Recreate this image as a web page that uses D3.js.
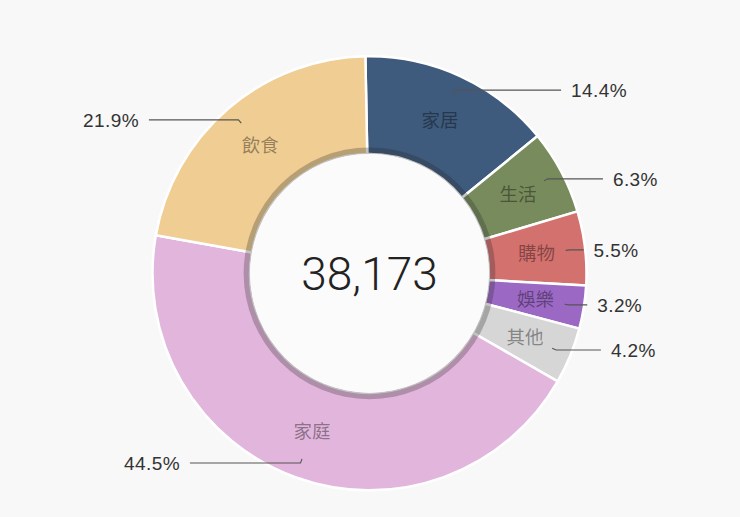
<!DOCTYPE html>
<html>
<head>
<meta charset="utf-8">
<script src="https://cdn.jsdelivr.net/npm/d3@7"></script>
<style>
  html, body { margin: 0; padding: 0; background: #f8f8f8; }
  svg { display: block; }
</style>
</head>
<body>
<svg id="chart"></svg>
<script>
// categories, going clockwise from the top
const CATEGORIES = ["家居", "生活", "購物", "娛樂", "其他", "家庭", "飲食"];
const VALUES = [5497, 2405, 2100, 1222, 1603, 16987, 8359];
const COLORS = ["#3e5a7c", "#778b5d", "#d3716f", "#9b68c4", "#d6d6d6", "#e2b6dc", "#efcd93"];

const WIDTH = 740;
const HEIGHT = 517;
const CX = 369.5, CY = 273.3;
const RADIUS = 217;
const HOLE = RADIUS * 0.55;          // white centre
const TRANS = RADIUS * 0.58;         // dark shadow ring round the hole
const LABEL_R = RADIUS - (RADIUS - HOLE) / 2;   // names sit in the middle of the ring
const LINE1_R = (RADIUS - HOLE) * 0.8 + HOLE;   // leader line start
const LINE2_R = LABEL_R * 1.2;                  // leader line bend
const ROT = -0.019; // whole ring is turned a touch to the left

const data = CATEGORIES.map((c, i) => ({ name: c, value: VALUES[i], color: COLORS[i] }));
const total = d3.sum(VALUES);
const pct = d3.format(".1%");

const svg = d3.select('#chart')
  .attr('width', WIDTH)
  .attr('height', HEIGHT);

const g = svg.append('g').attr('transform', `translate(${CX},${CY})`);

const pie = d3.pie()
  .sort(null)
  .value(d => d.value)
  .startAngle(ROT)
  .endAngle(ROT + 2 * Math.PI);

const arcs = pie(data);

const arc = d3.arc().innerRadius(HOLE).outerRadius(RADIUS);

g.selectAll('.slice')
  .data(arcs)
  .enter()
  .append('path')
  .classed('slice', true)
  .attr('d', arc)
  .attr('fill', d => d.data.color)
  .attr('stroke', '#fff')
  .attr('stroke-width', 2.5)
  .attr('stroke-linejoin', 'round');

// shadow ring + hole
g.append('path')
  .attr('d', d3.arc().innerRadius(HOLE).outerRadius(TRANS).startAngle(0).endAngle(2 * Math.PI)())
  .attr('fill', 'rgba(40,40,40,0.28)');

g.append('circle')
  .attr('r', HOLE)
  .attr('fill', '#fbfbfb');

g.append('text')
  .text(d3.format(',')(total))
  .attr('text-anchor', 'middle')
  .attr('dy', '0.36em')
  .attr('font-family', 'Roboto, "Liberation Sans", sans-serif')
  .attr('font-weight', 300)
  .attr('font-size', 46)
  .attr('fill', '#222');

const mid = d => (d.startAngle + d.endAngle) / 2;
const pt = (r, a) => [r * Math.sin(a), -r * Math.cos(a)];

// category names inside the slices
g.selectAll('.name')
  .data(arcs)
  .enter()
  .append('text')
  .classed('name', true)
  .text(d => d.data.name)
  .attr('x', d => pt(LABEL_R, mid(d))[0])
  .attr('y', d => pt(LABEL_R, mid(d))[1])
  .attr('dy', '0.35em')
  .attr('text-anchor', 'middle')
  .attr('font-family', '"Noto Sans CJK TC", sans-serif')
  .attr('font-size', 18.5)
  .attr('fill', 'rgba(0,0,0,0.4)');

// leader lines: short radial bit, then a flat bit whose length follows the angle
const lineLen = d => LABEL_R * 0.7 * Math.abs(Math.cos(mid(d)));
const isLeft = d => Math.sin(mid(d)) < 0;
const endPt = d => {
  const p = pt(LINE2_R, mid(d));
  return [p[0] + (isLeft(d) ? -1 : 1) * lineLen(d), p[1]];
};

g.selectAll('.leader')
  .data(arcs)
  .enter()
  .append('polyline')
  .classed('leader', true)
  .attr('points', d => [pt(LINE1_R, mid(d)), pt(LINE2_R, mid(d)), endPt(d)].map(p => p.join(',')).join(' '))
  .attr('fill', 'none')
  .attr('stroke', '#555')
  .attr('stroke-width', 1.1);

g.selectAll('.pct')
  .data(arcs)
  .enter()
  .append('text')
  .classed('pct', true)
  .text(d => pct(d.data.value / total))
  .attr('x', d => endPt(d)[0] + (isLeft(d) ? -10 : 10))
  .attr('y', d => endPt(d)[1])
  .attr('dy', '0.36em')
  .attr('text-anchor', d => isLeft(d) ? 'end' : 'start')
  .attr('font-family', '"Liberation Sans", Arial, sans-serif')
  .attr('font-size', 19)
  .attr('letter-spacing', 0.4)
  .attr('fill', '#333');
</script>
</body>
</html>
